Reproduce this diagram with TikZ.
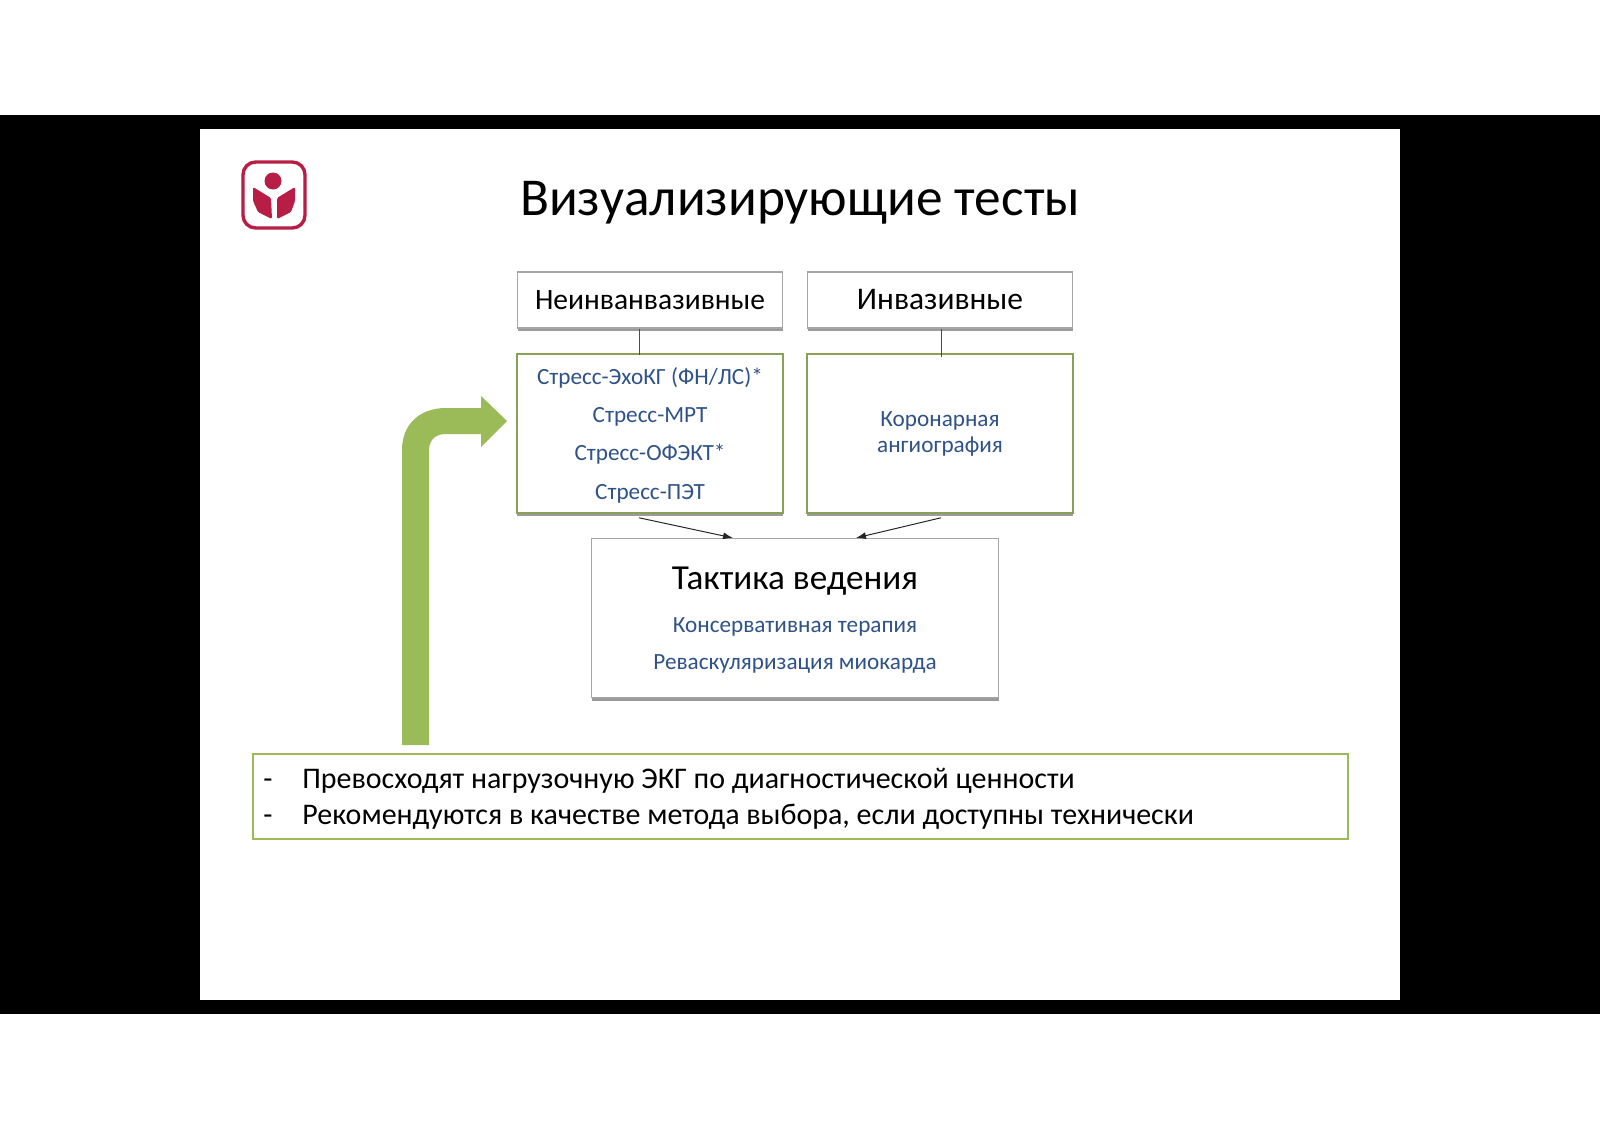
\documentclass[tikz,border=0pt]{standalone}
\usepackage{fontspec}
\setmainfont{Carlito}
\usetikzlibrary{shadows,arrows.meta}
\definecolor{slidegreen}{HTML}{9BBB59}
\definecolor{boxgreen}{HTML}{8A9F58}
\definecolor{slideblue}{HTML}{2F5288}
\definecolor{logored}{HTML}{B81D45}
\newcommand{\px}{0.025cm}
\tikzset{
    softshadow/.style={drop shadow={shadow xshift=0pt,shadow yshift=-2.2pt,opacity=0.6,fill=black!65}},
    headbox/.style={draw=black!35,line width=0.8pt,fill=white,softshadow},
    greenbox/.style={draw=boxgreen,line width=1.1pt,fill=white,softshadow},
    headtext/.style={inner sep=0pt,font=\fontsize{21}{25}\selectfont},
    bluetext/.style={inner sep=0pt,text=slideblue,font=\fontsize{16.5}{19}\selectfont},
    notetext/.style={inner sep=0pt,anchor=base west,font=\fontsize{21.3}{25}\selectfont}
}
\begin{document}
\begin{tikzpicture}[x=0.025cm,y=-0.025cm]
                \useasboundingbox (0,0) rectangle (1600,1131);
                \fill[white] (0,0) rectangle (1600,1131);
                \fill[black] (0,115) rectangle (1600,1014);
                \fill[white] (200,129) rectangle (1400,1000);
                \draw[logored,line width=2.4pt] (243,162) [rounded corners=9pt] rectangle (305,228);
                \fill[logored] (273,181) circle (8.5);
                \fill[logored,rounded corners=1pt] (253,187)--(271,198)--(272,219)--(258,212)--(253,201)--cycle;
                \fill[logored,rounded corners=1pt] (295,187)--(277,198)--(277,219)--(291,212)--(295,201)--cycle;
                \node[inner sep=0pt,font=\fontsize{37.9}{44}\selectfont] (title) at (800,203) {Визуализирующие тесты};
                \fill[slidegreen] (402,745)--(402,450) .. controls (402,424) and (420,408) .. (446,408)--(481,408)--(481,396)--(507,421)--(481,447)--(481,434)--(446,434) .. controls (435,434) and (429,440) .. (429,451)--(429,745)--cycle;
                \node[headbox,minimum width=265*\px,minimum height=56*\px] (noninv) at (650,300) {};
                \node[headbox,minimum width=265*\px,minimum height=56*\px] (inv) at (940,300) {};
                \node[greenbox,minimum width=266*\px,minimum height=159*\px] (stress) at (650,433.5) {};
                \node[greenbox,minimum width=266*\px,minimum height=159*\px] (coro) at (940,433.5) {};
                \node[headbox,minimum width=407*\px,minimum height=159*\px] (tactic) at (795,618) {};
                \node[headtext] (noninvtext) at (650,300) {Неинванвазивные};
                \node[headtext,font=\fontsize{22.4}{26}\selectfont] (invtext) at (940,300) {Инвазивные};
                \node[bluetext] (echo) at (650,378) {Стресс-ЭхоКГ (ФН/ЛС)*};
                \node[bluetext] (mrt) at (650,417) {Стресс-МРТ};
                \node[bluetext] (ofekt) at (650,454) {Стресс-ОФЭКТ*};
                \node[bluetext] (pet) at (650,494) {Стресс-ПЭТ};
                \node[bluetext] (coro1) at (940,421) {Коронарная};
                \node[bluetext] (coro2) at (940,447) {ангиография};
                \node[headtext,font=\fontsize{25}{30}\selectfont] (tactictext) at (795,581) {Тактика ведения};
                \node[bluetext] (therapy) at (795,627) {Консервативная терапия};
                \node[bluetext] (revasc) at (795,664) {Реваскуляризация миокарда};
                \draw[black!70,line width=0.6pt] ([xshift=-11*\px]noninv.south)--([xshift=-11*\px,yshift=-2*\px]stress.north);
                \draw[black!70,line width=0.6pt] ([xshift=1*\px]inv.south)--([xshift=1*\px,yshift=-4*\px]coro.north);
                \draw[-{Latex[length=10*\px,width=7*\px]},black!85,line width=0.7pt] ([xshift=-11*\px,yshift=-4*\px]stress.south)--([xshift=-62*\px]tactic.north);
                \draw[-{Latex[length=10*\px,width=7*\px]},black!85,line width=0.7pt] ([xshift=1*\px,yshift=-4*\px]coro.south)--([xshift=61*\px]tactic.north);
                \node[draw=slidegreen,line width=2pt,fill=white,minimum width=1095*\px,minimum height=85*\px] (note) at (800.5,796.5) {};
                \node[notetext] (dash1) at (263,788) {-};
                \node[notetext] (dash2) at (263,824) {-};
                \node[notetext] (note1) at (302,788) {Превосходят нагрузочную ЭКГ по диагностической ценности};
                \node[notetext] (note2) at (302,824) {Рекомендуются в качестве метода выбора, если доступны технически};
\end{tikzpicture}
\end{document}
